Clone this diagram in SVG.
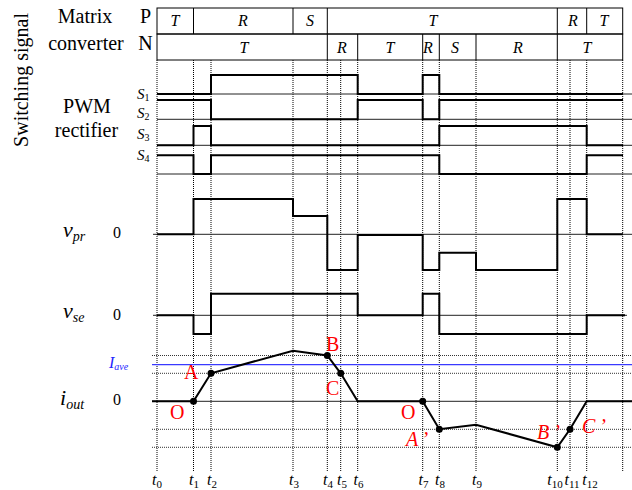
<svg xmlns="http://www.w3.org/2000/svg" width="632" height="490" viewBox="0 0 632 490">
<style>
.f{font-family:"Liberation Serif","Times New Roman",serif;fill:#000}
.it{font-style:italic}
.box{fill:none;stroke:#000;stroke-width:1}
.dv{stroke:#000;stroke-width:1;stroke-dasharray:1,1}
.dh{stroke:#333;stroke-width:1;stroke-dasharray:1,1}
.ref{stroke:#222;stroke-width:1}
.wave{fill:none;stroke:#000;stroke-width:2}
.red{font-family:"Liberation Serif","Times New Roman",serif;fill:#f00;font-size:20px}
.cl{font-size:16px;font-style:italic;text-anchor:middle}
.tl{font-size:16px;font-style:italic;text-anchor:middle}
</style>
<rect width="632" height="490" fill="#fff"/>

<g id="left-labels" class="f">
<text transform="translate(28,80) rotate(-90)" font-size="20" text-anchor="middle">Switching signal</text>
<text x="85" y="22.5" font-size="20" text-anchor="middle">Matrix</text>
<text x="86" y="49.5" font-size="20" text-anchor="middle">converter</text>
<text x="145.5" y="22.5" font-size="20" text-anchor="middle">P</text>
<text x="145.5" y="49.5" font-size="20" text-anchor="middle">N</text>
<text x="87" y="113" font-size="20" text-anchor="middle">PWM</text>
<text x="86.5" y="137" font-size="20" text-anchor="middle">rectifier</text>
<text x="137" y="99" font-size="15" class="it">S<tspan font-size="10" font-style="normal" dy="2">1</tspan></text>
<text x="137" y="118" font-size="15" class="it">S<tspan font-size="10" font-style="normal" dy="2">2</tspan></text>
<text x="137" y="139" font-size="15" class="it">S<tspan font-size="10" font-style="normal" dy="2">3</tspan></text>
<text x="137" y="160" font-size="15" class="it">S<tspan font-size="10" font-style="normal" dy="2">4</tspan></text>
<text x="63" y="237" font-size="22" class="it">v<tspan font-size="14" dy="4">pr</tspan></text>
<text x="113" y="238" font-size="16">0</text>
<text x="63" y="318" font-size="22" class="it">v<tspan font-size="14" dy="4">se</tspan></text>
<text x="113" y="320" font-size="16">0</text>
<text x="60" y="405" font-size="22" class="it">i<tspan font-size="14" dy="4">out</tspan></text>
<text x="113" y="405" font-size="16">0</text>
<text x="109" y="368" font-size="16" class="it" style="fill:#2424ff">I<tspan font-size="10" dy="2">ave</tspan></text>
</g>

<g id="mc-boxes">
<rect class="box" x="157" y="8" width="465.7" height="26"/>
<rect class="box" x="157" y="34" width="465.7" height="26"/>
<path class="box" d="M193.5,8V34M293,8V34M327.3,8V34M557.3,8V34M586.7,8V34"/>
<path class="box" d="M327.3,34V60M357.7,34V60M422.7,34V60M439.3,34V60M476,34V60M557.3,34V60"/>
<g class="f">
<text class="cl" x="175" y="26">T</text>
<text class="cl" x="243" y="26">R</text>
<text class="cl" x="310" y="26">S</text>
<text class="cl" x="433" y="26">T</text>
<text class="cl" x="573" y="26">R</text>
<text class="cl" x="604" y="26">T</text>
<text class="cl" x="244" y="52.5">T</text>
<text class="cl" x="342" y="52.5">R</text>
<text class="cl" x="390" y="52.5">T</text>
<text class="cl" x="428" y="52.5">R</text>
<text class="cl" x="455" y="52.5">S</text>
<text class="cl" x="518" y="52.5">R</text>
<text class="cl" x="587" y="52.5">T</text>
</g>
</g>

<g id="grid">
<path class="dv" d="M157,60V472M193.5,60V472M211,60V472M293,60V472M327.3,60V472M340.7,60V472M357.7,60V472M422.7,60V472M439.3,60V472M476,60V472M557.3,60V472M570,60V472M586.7,60V472M622.7,60V472"/>
<path class="ref" d="M157,94H632M157,119.3H632M157,145.3H632M157,174H632"/>
<path class="ref" d="M153,234.3H632M153,315.3H627M152,401.3H632"/>
<path class="dh" d="M152,355.5H632M152,373.3H632M152,429.3H632M152,447.3H632"/>
<path d="M152,364.7H632" stroke="#3a3aff" stroke-width="1.3"/>
</g>

<g id="waveforms">
<path id="S1" class="wave" d="M157,94H211V75H357.7V94H422.7V75H439.3V94H623"/>
<path id="S2" class="wave" d="M157,100H211V119.3H357.7V100H422.7V119.3H439.3V100H623"/>
<path id="S3" class="wave" d="M157,145.3H193.5V126H211V145.3H439.3V126H586.7V145.3H623"/>
<path id="S4" class="wave" d="M157,155.3H193.5V174H211V155.3H439.3V174H586.7V155.3H623"/>
<path id="vpr" class="wave" d="M157,234.3H193.5V199H293V216H327.3V270H357.7V235H422.7V270H439.3V252.7H476V270H557.3V199H586.7V234.3H623"/>
<path id="vse" class="wave" d="M157,315.3H193.5V334H211V293.7H357.7V315.3H422.7V293.7H439.3V334H586.7V315.3H625"/>
<polyline id="iout" class="wave" points="152,401.3 193.5,401.3 211,373.3 293,350.7 327.3,355.5 340.7,373.3 357.7,401.3 422.7,401.3 439.3,429.3 476,424.7 557.3,447.3 570,429.3 586.7,401.3 632,401.3"/>
</g>

<g id="points">
<circle cx="193.5" cy="401.3" r="3.5"/>
<circle cx="211" cy="373.3" r="3.5"/>
<circle cx="327.3" cy="355.5" r="3.5"/>
<circle cx="340.7" cy="373.3" r="3.5"/>
<circle cx="422.7" cy="401.3" r="3.5"/>
<circle cx="439.3" cy="429.3" r="3.5"/>
<circle cx="557.3" cy="447.3" r="3.5"/>
<circle cx="570" cy="429.3" r="3.5"/>
</g>

<g id="point-labels">
<text class="red" x="170" y="419">O</text>
<text class="red" x="184" y="379">A</text>
<text class="red" x="326" y="351">B</text>
<text class="red" x="326" y="395">C</text>
<text class="red" x="401" y="419">O</text>
<text class="red" x="406" y="446" font-style="italic">A<tspan dx="4">’</tspan></text>
<text class="red" x="537" y="439" font-style="italic">B<tspan dx="4">’</tspan></text>
<text class="red" x="582" y="433" font-style="italic">C<tspan dx="4">’</tspan></text>
</g>

<g id="time-labels" class="f">
<text class="tl" x="157" y="485">t<tspan font-size="11" font-style="normal" dy="3">0</tspan></text>
<text class="tl" x="194" y="485">t<tspan font-size="11" font-style="normal" dy="3">1</tspan></text>
<text class="tl" x="212" y="485">t<tspan font-size="11" font-style="normal" dy="3">2</tspan></text>
<text class="tl" x="294" y="485">t<tspan font-size="11" font-style="normal" dy="3">3</tspan></text>
<text class="tl" x="328" y="485">t<tspan font-size="11" font-style="normal" dy="3">4</tspan></text>
<text class="tl" x="342" y="485">t<tspan font-size="11" font-style="normal" dy="3">5</tspan></text>
<text class="tl" x="358.5" y="485">t<tspan font-size="11" font-style="normal" dy="3">6</tspan></text>
<text class="tl" x="423.5" y="485">t<tspan font-size="11" font-style="normal" dy="3">7</tspan></text>
<text class="tl" x="440" y="485">t<tspan font-size="11" font-style="normal" dy="3">8</tspan></text>
<text class="tl" x="477" y="485">t<tspan font-size="11" font-style="normal" dy="3">9</tspan></text>
<text class="tl" x="555" y="485">t<tspan font-size="11" font-style="normal" dy="3">10</tspan></text>
<text class="tl" x="572" y="485">t<tspan font-size="11" font-style="normal" dy="3">11</tspan></text>
<text class="tl" x="590" y="485">t<tspan font-size="11" font-style="normal" dy="3">12</tspan></text>
</g>
</svg>
